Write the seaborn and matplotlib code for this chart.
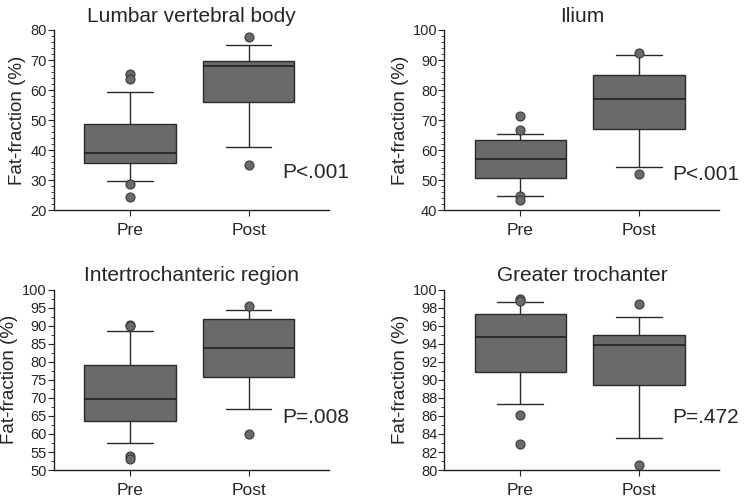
import numpy as np
import pandas as pd
import seaborn as sns
import matplotlib.pyplot as plt
from matplotlib.ticker import MultipleLocator

# box summaries: lower whisker, Q1, median, Q3, upper whisker
groups = ['Pre', 'Post']
titles = ['Lumbar vertebral body', 'Ilium', 'Intertrochanteric region', 'Greater trochanter']
pvals = ['P<.001', 'P<.001', 'P=.008', 'P=.472']

lumbar_pre = [29.7, 35.7, 38.9, 48.8, 59.5]
lumbar_post = [41.1, 55.9, 68.0, 69.7, 75.1]
ilium_pre = [44.8, 50.9, 57.0, 63.5, 65.5]
ilium_post = [54.5, 66.9, 77.0, 84.9, 91.8]
inter_pre = [57.6, 63.7, 69.6, 79.1, 88.5]
inter_post = [67.0, 75.9, 83.9, 91.9, 94.3]
greater_pre = [87.3, 90.9, 94.7, 97.25, 98.6]
greater_post = [83.5, 89.4, 93.9, 94.95, 96.95]

# outliers
lumbar_pre_out = [65.2, 63.6, 28.7, 24.5]
lumbar_post_out = [77.6, 35.1]
ilium_pre_out = [71.3, 66.7, 44.8, 43.4]
ilium_post_out = [92.4, 52.1]
inter_pre_out = [90.1, 89.8, 53.9, 53.2]
inter_post_out = [95.5, 60.1]
greater_pre_out = [99.0, 98.7, 86.1, 82.9]
greater_post_out = [98.4, 80.6]

boxes = [(lumbar_pre, lumbar_post), (ilium_pre, ilium_post),
         (inter_pre, inter_post), (greater_pre, greater_post)]
outs = [(lumbar_pre_out, lumbar_post_out), (ilium_pre_out, ilium_post_out),
        (inter_pre_out, inter_post_out), (greater_pre_out, greater_post_out)]

ylims = [(20, 80), (40, 100), (50, 100), (80, 100)]
majors = [10, 10, 5, 2]
minors = [2, 2, 2.5, 1]
ptext_y = [0.21, 0.20, 0.29, 0.29]

sns.set_style('white')
plt.rcParams['font.family'] = ['Liberation Sans', 'DejaVu Sans']

fig, axs = plt.subplots(2, 2, figsize=(7.47, 4.99), dpi=100)
axs = axs.ravel()

for i, ax in enumerate(axs):
    pre, post = boxes[i]
    df = pd.DataFrame({'group': ['Pre'] * 5 + ['Post'] * 5, 'value': pre + post})
    sns.boxplot(data=df, x='group', y='value', order=groups, ax=ax, whis=(0, 100),
                width=0.77, color='#6a6a6a', saturation=1, showfliers=False,
                linecolor='#2a2a2a', linewidth=1.0,
                medianprops={'color': '#1a1a1a', 'linewidth': 1.1})
    po, qo = outs[i]
    odf = pd.DataFrame({'group': ['Pre'] * len(po) + ['Post'] * len(qo), 'value': po + qo})
    sns.stripplot(data=odf, x='group', y='value', order=groups, ax=ax, jitter=False,
                  color='#6a6a6a', edgecolor='#3a3a3a', linewidth=0.8, size=6.5, zorder=5)
    ax.set_ylim(*ylims[i])
    ax.set_xlim(-0.64, 1.675)
    ax.yaxis.set_major_locator(MultipleLocator(majors[i]))
    ax.yaxis.set_minor_locator(MultipleLocator(minors[i]))
    ax.tick_params(axis='y', which='major', left=True, length=4, width=0.8, pad=1, labelsize=10.5)
    ax.tick_params(axis='y', which='minor', left=True, length=2, width=0.6)
    ax.tick_params(axis='x', bottom=True, length=4, width=0.8, labelsize=12.5, pad=5)
    for s in ['top', 'right']:
        ax.spines[s].set_visible(False)
    for s in ['left', 'bottom']:
        ax.spines[s].set_color('#222222')
        ax.spines[s].set_linewidth(1.0)
    ax.set_xlabel('')
    ax.set_ylabel('Fat-fraction (%)', fontsize=13.5, labelpad=3)
    ax.set_title(titles[i], fontsize=15, pad=6)
    ax.text(0.83, ptext_y[i], pvals[i], transform=ax.transAxes, fontsize=15,
            ha='left', va='center', clip_on=False)

fig.subplots_adjust(left=0.072, right=0.963, top=0.94, bottom=0.058, wspace=0.42, hspace=0.44)
fig.savefig('out.png', dpi=100)
